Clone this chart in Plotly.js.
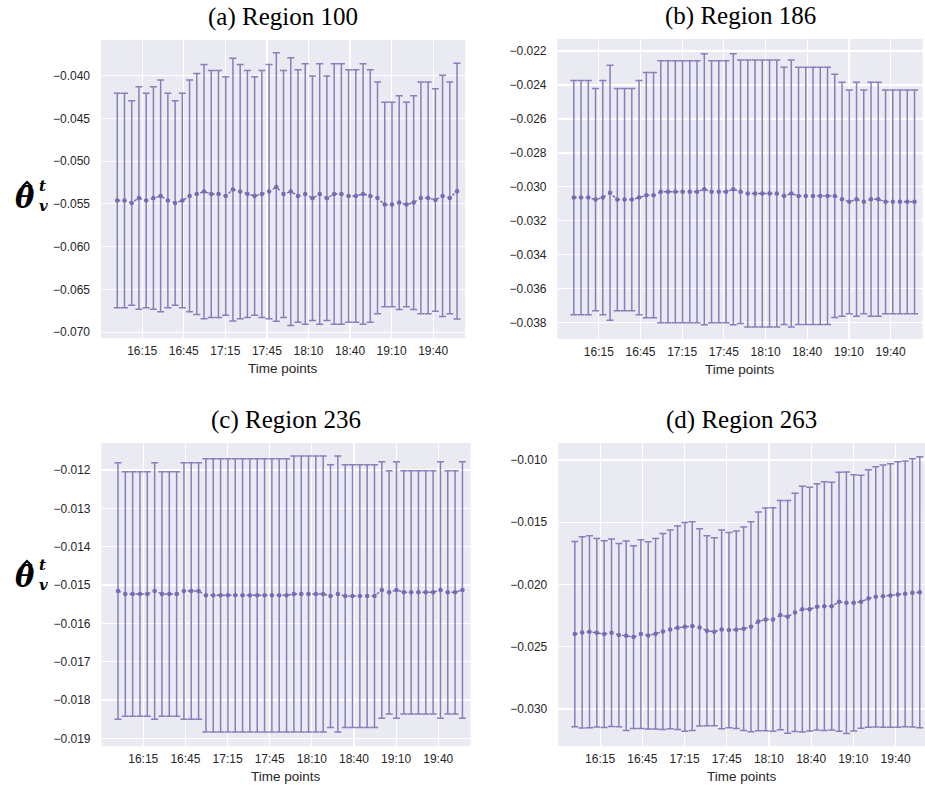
<!DOCTYPE html>
<html>
<head>
<meta charset="utf-8">
<script src="https://cdn.plot.ly/plotly-3.0.1.min.js"></script>
<style>
  html, body { margin: 0; padding: 0; background: #ffffff; }
  #chart { width: 925px; height: 788px; }
</style>
</head>
<body>
<div id="chart"></div>
<script>
// Sampling times (5-minute steps)
const timePoints = [
  '16:00','16:05','16:10','16:15','16:20','16:25','16:30','16:35','16:40','16:45','16:50','16:55',
  '17:00','17:05','17:10','17:15','17:20','17:25','17:30','17:35','17:40','17:45','17:50','17:55',
  '18:00','18:05','18:10','18:15','18:20','18:25','18:30','18:35','18:40','18:45','18:50','18:55',
  '19:00','19:05','19:10','19:15','19:20','19:25','19:30','19:35','19:40','19:45','19:50','19:55'
];
const tickLabels = ['16:15','16:45','17:15','17:45','18:10','18:40','19:10','19:40'];

const regionNames = ['(a) Region 100', '(b) Region 186', '(c) Region 236', '(d) Region 263'];

// Region 100: estimate and upper confidence bound
const meanA = [
  -0.05461,-0.05461,-0.05489,-0.05430,-0.05461,-0.05430,-0.05407,-0.05461,-0.05489,-0.05461,-0.05407,-0.05384,
  -0.05356,-0.05384,-0.05384,-0.05407,-0.05333,-0.05356,-0.05384,-0.05407,-0.05384,-0.05356,-0.05302,-0.05384,
  -0.05356,-0.05407,-0.05384,-0.05434,-0.05384,-0.05434,-0.05384,-0.05384,-0.05407,-0.05407,-0.05384,-0.05407,
  -0.05430,-0.05508,-0.05508,-0.05485,-0.05508,-0.05485,-0.05430,-0.05430,-0.05454,-0.05407,-0.05430,-0.05352
];
const upperA = [
  -0.04208,-0.04208,-0.04294,-0.04130,-0.04208,-0.04130,-0.04053,-0.04208,-0.04294,-0.04208,-0.04053,-0.03975,
  -0.03870,-0.03940,-0.03940,-0.04014,-0.03799,-0.03870,-0.03940,-0.04014,-0.03940,-0.03870,-0.03733,-0.03940,
  -0.03792,-0.03932,-0.03862,-0.04006,-0.03862,-0.04006,-0.03862,-0.03862,-0.03932,-0.03932,-0.03862,-0.03932,
  -0.04076,-0.04313,-0.04313,-0.04236,-0.04313,-0.04236,-0.04076,-0.04076,-0.04154,-0.03998,-0.04076,-0.03858
];

// Region 186
const meanB = [
  -0.03063,-0.03063,-0.03063,-0.03075,-0.03063,-0.03035,-0.03075,-0.03075,-0.03075,-0.03063,-0.03049,-0.03049,
  -0.03029,-0.03029,-0.03029,-0.03029,-0.03029,-0.03029,-0.03014,-0.03029,-0.03029,-0.03029,-0.03014,-0.03029,
  -0.03039,-0.03039,-0.03039,-0.03039,-0.03039,-0.03053,-0.03039,-0.03053,-0.03053,-0.03053,-0.03053,-0.03053,
  -0.03053,-0.03073,-0.03088,-0.03073,-0.03088,-0.03073,-0.03073,-0.03088,-0.03088,-0.03088,-0.03088,-0.03088
];
const upperB = [
  -0.02373,-0.02373,-0.02373,-0.02420,-0.02373,-0.02284,-0.02420,-0.02420,-0.02420,-0.02373,-0.02327,-0.02327,
  -0.02257,-0.02257,-0.02257,-0.02257,-0.02257,-0.02257,-0.02216,-0.02257,-0.02257,-0.02257,-0.02216,-0.02253,
  -0.02253,-0.02253,-0.02253,-0.02253,-0.02253,-0.02296,-0.02253,-0.02296,-0.02296,-0.02296,-0.02296,-0.02296,
  -0.02337,-0.02384,-0.02429,-0.02384,-0.02429,-0.02384,-0.02384,-0.02429,-0.02429,-0.02429,-0.02429,-0.02429
];

// Region 236
const meanC = [
  -0.015157,-0.015235,-0.015235,-0.015235,-0.015235,-0.015157,-0.015235,-0.015235,-0.015235,-0.015157,-0.015157,-0.015157,
  -0.015270,-0.015270,-0.015270,-0.015270,-0.015270,-0.015270,-0.015270,-0.015270,-0.015270,-0.015270,-0.015270,-0.015270,
  -0.015235,-0.015235,-0.015235,-0.015235,-0.015235,-0.015290,-0.015235,-0.015290,-0.015290,-0.015290,-0.015290,-0.015290,
  -0.015130,-0.015190,-0.015130,-0.015190,-0.015190,-0.015190,-0.015190,-0.015190,-0.015130,-0.015190,-0.015190,-0.015130
];
const upperC = [
  -0.011809,-0.012043,-0.012043,-0.012043,-0.012043,-0.011809,-0.012043,-0.012043,-0.012043,-0.011809,-0.011809,-0.011809,
  -0.011704,-0.011704,-0.011704,-0.011704,-0.011704,-0.011704,-0.011704,-0.011704,-0.011704,-0.011704,-0.011704,-0.011704,
  -0.011635,-0.011635,-0.011635,-0.011635,-0.011635,-0.011861,-0.011635,-0.011861,-0.011861,-0.011861,-0.011861,-0.011861,
  -0.011783,-0.012017,-0.011783,-0.012017,-0.012017,-0.012017,-0.012017,-0.012017,-0.011783,-0.012017,-0.012017,-0.011783
];

// Region 263
const meanD = [
  -0.023984,-0.023850,-0.023797,-0.023877,-0.023984,-0.023877,-0.024064,-0.024118,-0.024225,-0.023984,-0.024091,-0.023957,
  -0.023770,-0.023610,-0.023476,-0.023396,-0.023342,-0.023449,-0.023717,-0.023797,-0.023610,-0.023663,-0.023636,-0.023556,
  -0.023396,-0.022968,-0.022807,-0.022807,-0.022460,-0.022594,-0.022246,-0.021979,-0.021979,-0.021791,-0.021738,-0.021738,
  -0.021390,-0.021471,-0.021471,-0.021390,-0.021126,-0.020992,-0.020938,-0.020885,-0.020804,-0.020751,-0.020670,-0.020617
];
const upperD = [
  -0.016542,-0.016166,-0.016086,-0.016300,-0.016488,-0.016354,-0.016702,-0.016515,-0.016890,-0.016408,-0.016568,-0.016300,
  -0.015898,-0.015630,-0.015308,-0.015013,-0.014960,-0.015523,-0.016086,-0.016247,-0.015630,-0.015818,-0.015710,-0.015389,
  -0.014960,-0.014182,-0.013861,-0.013834,-0.013244,-0.013244,-0.012681,-0.012118,-0.012198,-0.011903,-0.011743,-0.011796,
  -0.010992,-0.010965,-0.011180,-0.011233,-0.010777,-0.010536,-0.010402,-0.010295,-0.010134,-0.010080,-0.009893,-0.009732
];

const W = 925, H = 788;
const purple = '#756bb1';
const idx = timePoints.map((_, i) => i);

// tick marks sit between samples (auto-located on the sample index)
const tickStart = 3.45, tickStep = 5.75;
const tickPos = tickLabels.map((_, k) => tickStart + k * tickStep);

function series(mean, upper, xa, ya) {
  return {
    type: 'scatter', mode: 'lines+markers',
    x: idx, y: mean, xaxis: xa, yaxis: ya,
    line: { color: purple, width: 1.4, dash: 'dot' },
    marker: { color: purple, size: 4.5 },
    error_y: {
      type: 'data', symmetric: true,
      array: upper.map((u, i) => u - mean[i]),
      color: 'rgba(117,107,177,0.85)', thickness: 1.5, width: 3.5
    },
    hoverinfo: 'skip', showlegend: false
  };
}

const data = [
  series(meanA, upperA, 'x', 'y'),
  series(meanB, upperB, 'x2', 'y2'),
  series(meanC, upperC, 'x3', 'y3'),
  series(meanD, upperD, 'x4', 'y4')
];

// pixel boxes of the four panels: [left, right, top, bottom]
const boxes = [
  [101, 465, 40, 338],
  [557.5, 922.5, 39, 339],
  [101.5, 470.5, 443, 746],
  [558.3, 925, 443, 746]
];
const xRanges = [[-2.25, 48.1], [-2.25, 48.1], [-2.25, 48.1], [-2.25, 47.71]];
const yRanges = [[-0.07067, -0.03585], [-0.03896, -0.02129], [-0.019201, -0.011296], [-0.032972, -0.008635]];
const yDticks = [0.005, 0.002, 0.001, 0.005];

const tickFont = { family: 'Liberation Sans, Arial, sans-serif', size: 12, color: '#262626' };
const layout = {
  width: W, height: H,
  margin: { l: 0, r: 0, t: 0, b: 0 },
  paper_bgcolor: '#ffffff',
  plot_bgcolor: '#eaeaf2',
  showlegend: false,
  annotations: [],
  shapes: []
};

const px = v => v / W;
const py = v => 1 - v / H;

boxes.forEach((b, k) => {
  const s = k === 0 ? '' : String(k + 1);
  layout['xaxis' + s] = {
    domain: [b[0] / W, b[1] / W], range: xRanges[k], anchor: 'y' + s,
    tickmode: 'array', tickvals: tickPos, ticktext: tickLabels,
    showgrid: true, gridcolor: '#ffffff', gridwidth: 1.2,
    zeroline: false, showline: false, ticks: '', tickfont: tickFont,
    ticklabelstandoff: 4
  };
  layout['yaxis' + s] = {
    domain: [1 - b[3] / H, 1 - b[2] / H], range: yRanges[k], anchor: 'x' + s,
    dtick: yDticks[k], tick0: 0, tickformat: '.3f',
    showgrid: true, gridcolor: '#ffffff', gridwidth: 1.2,
    zeroline: false, showline: false, ticks: '', tickfont: tickFont,
    ticklabelstandoff: 10
  };
  const cx = (b[0] + Math.min(b[1], b[0] + 369.6)) / 2;
  layout.annotations.push({
    text: regionNames[k], xref: 'paper', yref: 'paper',
    x: px(cx), y: py(b[2] - 23), xanchor: 'center', yanchor: 'middle',
    showarrow: false, font: { family: 'Liberation Serif, Times New Roman, serif', size: 25, color: '#000000' }
  });
  layout.annotations.push({
    text: 'Time points', xref: 'paper', yref: 'paper',
    x: px(cx), y: py(b[3] + 30), xanchor: 'center', yanchor: 'middle',
    showarrow: false, font: { family: 'Liberation Sans, Arial, sans-serif', size: 13.5, color: '#262626' }
  });
});

// y-axis symbol for each row: theta with a hat, stacked superscript t and subscript v
[195, 574].forEach(yc => {
  layout.annotations.push({
    text: '<i><b>θ</b></i>', xref: 'paper', yref: 'paper',
    x: px(25), y: py(yc + 3), xanchor: 'center', yanchor: 'middle', showarrow: false,
    font: { family: 'DejaVu Serif, serif', size: 29, color: '#000000' }
  });
  layout.annotations.push({
    text: '<i><b>t</b></i><br><i><b>v</b></i>', xref: 'paper', yref: 'paper',
    x: px(37), y: py(yc + 1), xanchor: 'left', yanchor: 'middle', align: 'left', showarrow: false,
    font: { family: 'DejaVu Serif, serif', size: 15, color: '#000000' }
  });
  // circumflex accent over the theta
  layout.shapes.push({
    type: 'path', xref: 'paper', yref: 'paper',
    path: `M ${px(22)} ${py(yc - 8)} L ${px(27)} ${py(yc - 13)} L ${px(32)} ${py(yc - 8)}`,
    line: { color: '#000000', width: 2.2 }
  });
});

Plotly.newPlot('chart', data, layout, { staticPlot: true, displayModeBar: false });
</script>
</body>
</html>
